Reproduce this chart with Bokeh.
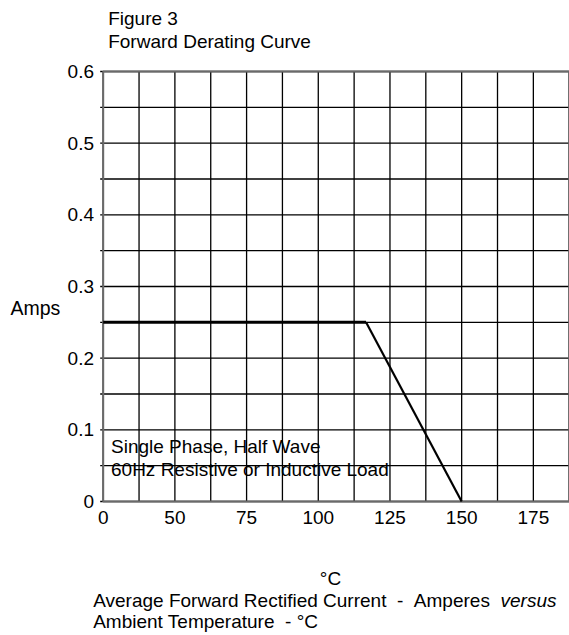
from bokeh.plotting import figure
from bokeh.models import Label, Range1d
from bokeh.core.properties import value
from bokeh.embed import file_html
from bokeh.resources import INLINE

# ---- data ----
temp_c = [0, 110, 150]
amps = [0.25, 0.25, 0.0]

x_tick_pos = [0, 30, 60, 90, 120, 150, 180]
x_tick_labels = ["0", "50", "75", "100", "125", "150", "175"]
y_tick_pos = [0, 0.1, 0.2, 0.3, 0.4, 0.5, 0.6]
y_tick_labels = ["0", "0.1", "0.2", "0.3", "0.4", "0.5", "0.6"]
x_grid_step = 15
y_grid_step = 0.05
x_max = 195
y_max = 0.6

# ---- layout (canvas pixels) ----
W, H = 569, 635
CH_LEFT, CH_BOTTOM = 102.7, 501.0
CH_W, CH_H = 466.0, 430.0
SX = CH_W / x_max          # px per °C-unit
SY = CH_H / y_max          # px per amp

FONT = "Liberation Sans"
NB = "\u00a0"

p = figure(width=W, height=H,
           x_range=Range1d(-CH_LEFT / SX, (W - CH_LEFT) / SX),
           y_range=Range1d(-(H - CH_BOTTOM) / SY, CH_BOTTOM / SY),
           min_border=0, output_backend="svg", toolbar_location=None,
           background_fill_color="white", border_fill_color="white")
p.axis.visible = False
p.xgrid.visible = False
p.ygrid.visible = False
p.outline_line_color = None

def dx(px):
    return px / SX

def dy(px):
    return px / SY

def at(px, py):
    return (px - CH_LEFT) / SX, (CH_BOTTOM - py) / SY

# grid
x_grid = [i * x_grid_step for i in range(int(round(x_max / x_grid_step)) + 1)]
y_grid = [round(i * y_grid_step, 2) for i in range(int(round(y_max / y_grid_step)) + 1)]
p.segment(x0=x_grid, x1=x_grid, y0=[0] * len(x_grid), y1=[y_max] * len(x_grid),
          line_color="#000000", line_width=1.3)
p.segment(x0=[0] * len(y_grid), x1=[x_max] * len(y_grid), y0=y_grid, y1=y_grid,
          line_color="#000000", line_width=1.3)

# small y ticks
p.segment(x0=[-dx(3)] * len(y_grid), x1=[0] * len(y_grid), y0=y_grid, y1=y_grid,
          line_color="#000000", line_width=1.3)

# frame border
p.quad(left=[0], right=[x_max], bottom=[0], top=[y_max], fill_color=None,
       line_color="#6a6a6a", line_width=2)

# curve
p.line(temp_c[:2], amps[:2], line_color="black", line_width=3)
p.line(temp_c[1:], amps[1:], line_color="black", line_width=2.2)

# tick labels
p.text(x=x_tick_pos, y=[-dy(517 - CH_BOTTOM)] * len(x_tick_pos), text=x_tick_labels,
       text_font=value(FONT), text_font_size="19px", text_align="center",
       text_baseline="middle", text_color="black")
p.text(x=[-dx(CH_LEFT - 93.5)] * len(y_tick_pos), y=y_tick_pos, text=y_tick_labels,
       text_font=value(FONT), text_font_size="19px", text_align="right",
       text_baseline="middle", text_color="black")

def add_text(txt, px, py, size="19px", align="left", style="normal"):
    x, y = at(px, py)
    p.add_layout(Label(x=x, y=y, text=txt, text_font=FONT, text_font_size=size,
                       text_align=align, text_baseline="middle",
                       text_font_style=style, text_color="black"))

add_text("Figure 3", 107.7, 18)
add_text("Forward Derating Curve", 107.7, 41)
add_text("Amps", 10, 307.5, size="19.5px")
add_text("Single Phase, Half Wave", 110.5, 445.5)
add_text("60Hz Resistive or Inductive Load", 110.5, 468.5)
add_text("°C", 330, 578, align="center")
add_text("Average Forward Rectified Current" + NB * 2 + "-" + NB * 2 + "Amperes", 92.7, 600)
add_text("versus", 556, 600, align="right", style="italic")
add_text("Ambient Temperature" + NB * 2 + "-" + NB + "°C", 92.7, 621)

open("out.html", "w").write(file_html(p, INLINE))
